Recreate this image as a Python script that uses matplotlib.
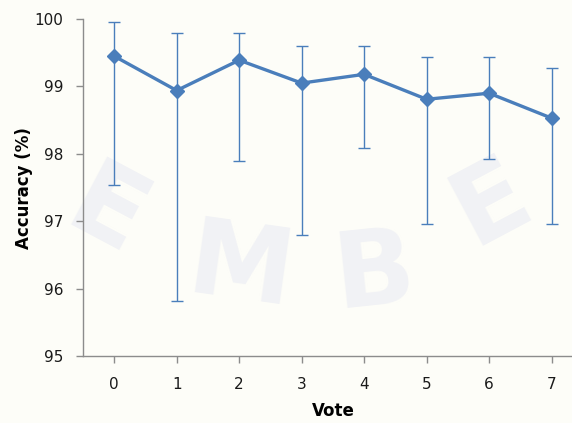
import matplotlib
matplotlib.use("Agg")
import matplotlib.pyplot as plt
import numpy as np

votes = [0, 1, 2, 3, 4, 5, 6, 7]
accuracy = [99.45, 98.94, 99.39, 99.05, 99.18, 98.81, 98.90, 98.53]
upper = [99.95, 99.79, 99.79, 99.60, 99.60, 99.44, 99.44, 99.27]
lower = [97.54, 95.82, 97.90, 96.80, 98.09, 96.96, 97.92, 96.96]
y_ticks = [95, 96, 97, 98, 99, 100]

acc = np.array(accuracy)
yerr = np.vstack([acc - np.array(lower), np.array(upper) - acc])

blue = "#4A7EBB"
grey = "#8C8C8C"
mark = "#F1F2F5"

fig = plt.figure(figsize=(5.72, 4.23), dpi=100, facecolor="#FDFDF8")

# faint background watermark lettering
for ch, x, y, rot in [("E", 0.185, 0.49, -28), ("M", 0.42, 0.36, -8),
                      ("B", 0.655, 0.35, 6), ("E", 0.86, 0.52, 28)]:
    fig.text(x, y, ch, fontsize=76, fontweight="bold", color=mark,
             ha="center", va="center", rotation=rot, zorder=-5)

ax = fig.add_axes([0.145, 0.158, 0.874, 0.797])
ax.set_zorder(5)
ax.set_facecolor("none")

ax.errorbar(votes, accuracy, yerr=yerr, fmt="none", ecolor=blue,
            elinewidth=1.0, capsize=4, capthick=1.0, zorder=2)
ax.plot(votes, accuracy, color=blue, lw=2.4, marker="D", ms=7,
        markeredgecolor=blue, zorder=3)

ax.set_xlim(-0.5, 7.5)
ax.set_ylim(95, 100)
ax.set_yticks(y_ticks)
ax.set_xticks(votes)
for s in ["top", "right"]:
    ax.spines[s].set_visible(False)
for s in ["left", "bottom"]:
    ax.spines[s].set_color(grey)
    ax.spines[s].set_linewidth(1.0)
ax.tick_params(axis="both", colors=grey, length=5, width=1.0,
               labelcolor="#1a1a1a", labelsize=11)
ax.tick_params(axis="x", pad=10)
ax.tick_params(axis="y", pad=9)

ax.set_xlabel("Vote", fontsize=12, fontweight="bold", labelpad=7)
ax.set_ylabel("Accuracy (%)", fontsize=12, fontweight="bold", labelpad=1)

fig.savefig("out.png", dpi=100, facecolor=fig.get_facecolor())
